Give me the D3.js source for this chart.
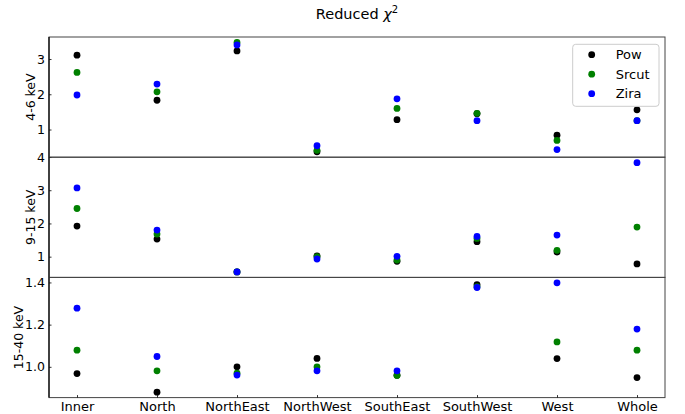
<!DOCTYPE html>
<html>
<head>
<meta charset="utf-8">
<script src="https://cdn.jsdelivr.net/npm/d3@7"></script>
<style>
  html, body { margin: 0; padding: 0; background: #fff; }
  svg { display: block; font-family: "DejaVu Sans", sans-serif; }
</style>
</head>
<body>
<svg id="chart" width="685" height="414"></svg>
<script>
const categories = ["Inner","North","NorthEast","NorthWest","SouthEast","SouthWest","West","Whole"];
const seriesNames = ["Pow","Srcut","Zira"];
const seriesColors = ["#000000","#008000","#0000ff"];
const bandLabels = ["4-6 keV","9-15 keV","15-40 keV"];

const pow46   = [3.11, 1.83, 3.23, 0.37, 1.28, 1.45, 0.84, 1.56];
const srcut46 = [2.62, 2.07, 3.47, 0.41, 1.60, 1.46, 0.69, 1.25];
const zira46  = [1.98, 2.29, 3.40, 0.54, 1.87, 1.25, 0.43, 1.25];

const pow915   = [1.92, 1.53, 0.54, 1.02, 0.86, 1.45, 1.14, 0.78];
const srcut915 = [2.45, 1.68, 0.54, 1.00, 0.90, 1.55, 1.19, 1.89];
const zira915  = [3.07, 1.80, 0.54, 0.93, 1.01, 1.61, 1.65, 3.83];

const pow1540   = [0.968, 0.880, 1.000, 1.040, 0.960, 1.390, 1.039, 0.949];
const srcut1540 = [1.079, 0.981, 0.970, 1.000, 0.959, 1.380, 1.118, 1.079];
const zira1540  = [1.278, 1.049, 0.961, 0.981, 0.981, 1.376, 1.398, 1.179];

const ticks46 = [1, 2, 3];
const ticks915 = [1, 2, 3, 4];
const ticks1540 = [1.0, 1.2, 1.4];

const panels = [
  { label: bandLabels[0], series: [pow46, srcut46, zira46], ticks: ticks46, fmt: d3.format("d") },
  { label: bandLabels[1], series: [pow915, srcut915, zira915], ticks: ticks915, fmt: d3.format("d") },
  { label: bandLabels[2], series: [pow1540, srcut1540, zira1540], ticks: ticks1540, fmt: d3.format(".1f") }
];

const svg = d3.select("#chart");
const plotLeft = 49, plotRight = 665, plotTop = 37, panelH = 120.2;
const idx = d3.range(categories.length);
const x = d3.scaleLinear().domain([-0.35, categories.length - 1 + 0.35]).range([plotLeft, plotRight]);

// title
const title = svg.append("text").attr("x", (plotLeft + plotRight) / 2).attr("y", 18.5)
  .attr("text-anchor", "middle").attr("font-size", 14.5).attr("fill", "#000");
title.append("tspan").text("Reduced ");
title.append("tspan").attr("font-style", "italic").text("χ");
title.append("tspan").attr("font-size", 10).attr("dy", -6).text("2");

panels.forEach((p, pi) => {
  const y0 = plotTop + pi * panelH, y1 = y0 + panelH;
  const all = p.series.flat();
  const [mn, mx] = d3.extent(all);
  const pad = (mx - mn) * 0.05;
  const y = d3.scaleLinear().domain([mn - pad, mx + pad]).range([y1, y0]);

  const g = svg.append("g");
  const clipId = "clip" + pi;
  svg.append("clipPath").attr("id", clipId).append("rect")
    .attr("x", plotLeft).attr("y", y0).attr("width", plotRight - plotLeft).attr("height", panelH);

  // points
  const pts = g.append("g").attr("clip-path", `url(#${clipId})`);
  p.series.forEach((vals, si) => {
    pts.selectAll(null).data(idx).enter().append("circle")
      .attr("cx", i => x(i)).attr("cy", i => y(vals[i])).attr("r", 3.4)
      .attr("fill", seriesColors[si]);
  });

  // y axis
  const ya = d3.axisLeft(y).tickValues(p.ticks).tickFormat(p.fmt).tickSize(-2.5).tickPadding(4);
  const yg = g.append("g").attr("transform", `translate(${plotLeft},0)`).call(ya);
  yg.select(".domain").remove();
  yg.selectAll(".tick line").attr("stroke", "#000").attr("stroke-width", 0.8);
  yg.selectAll(".tick text").attr("font-size", 12.5).attr("fill", "#000")
    .attr("font-family", "DejaVu Sans, sans-serif");

  // y label
  g.append("text")
    .attr("transform", `translate(${pi === 2 ? 18.5 : 30},${(y0 + y1) / 2}) rotate(-90)`)
    .attr("text-anchor", "middle").attr("dominant-baseline", "central")
    .attr("font-size", 12.5).attr("fill", "#000").text(p.label);

  // frame
  g.append("rect").attr("x", plotLeft).attr("y", y0).attr("width", plotRight - plotLeft).attr("height", panelH)
    .attr("fill", "none").attr("stroke", "#444").attr("stroke-width", 1);
  g.append("line").attr("x1", plotLeft).attr("x2", plotLeft).attr("y1", y0).attr("y2", y1)
    .attr("stroke", "#000").attr("stroke-width", 1.2);

  if (pi === 2) {
    const xa = d3.axisBottom(x).tickValues(idx).tickFormat(i => categories[i]).tickSize(-2.5).tickPadding(4);
    const xg = g.append("g").attr("transform", `translate(0,${y1})`).call(xa);
    xg.select(".domain").remove();
    xg.selectAll(".tick line").attr("stroke", "#000").attr("stroke-width", 0.8);
    xg.selectAll(".tick text").attr("font-size", 13).attr("fill", "#000")
      .attr("font-family", "DejaVu Sans, sans-serif");
  }
});

// legend
const lg = svg.append("g");
lg.append("rect").attr("x", 572.7).attr("y", 44.3).attr("width", 86.3).attr("height", 62)
  .attr("rx", 3).attr("fill", "#fff").attr("fill-opacity", 0.8)
  .attr("stroke", "#cccccc").attr("stroke-width", 1);
const rowY = d3.scaleLinear().domain([0, 2]).range([54.7, 93.7]);
seriesNames.forEach((name, si) => {
  lg.append("circle").attr("cx", 591.7).attr("cy", rowY(si)).attr("r", 3.4).attr("fill", seriesColors[si]);
  lg.append("text").attr("x", 615.7).attr("y", rowY(si)).attr("dominant-baseline", "central")
    .attr("font-size", 13).attr("fill", "#000").text(name);
});
</script>
</body>
</html>
